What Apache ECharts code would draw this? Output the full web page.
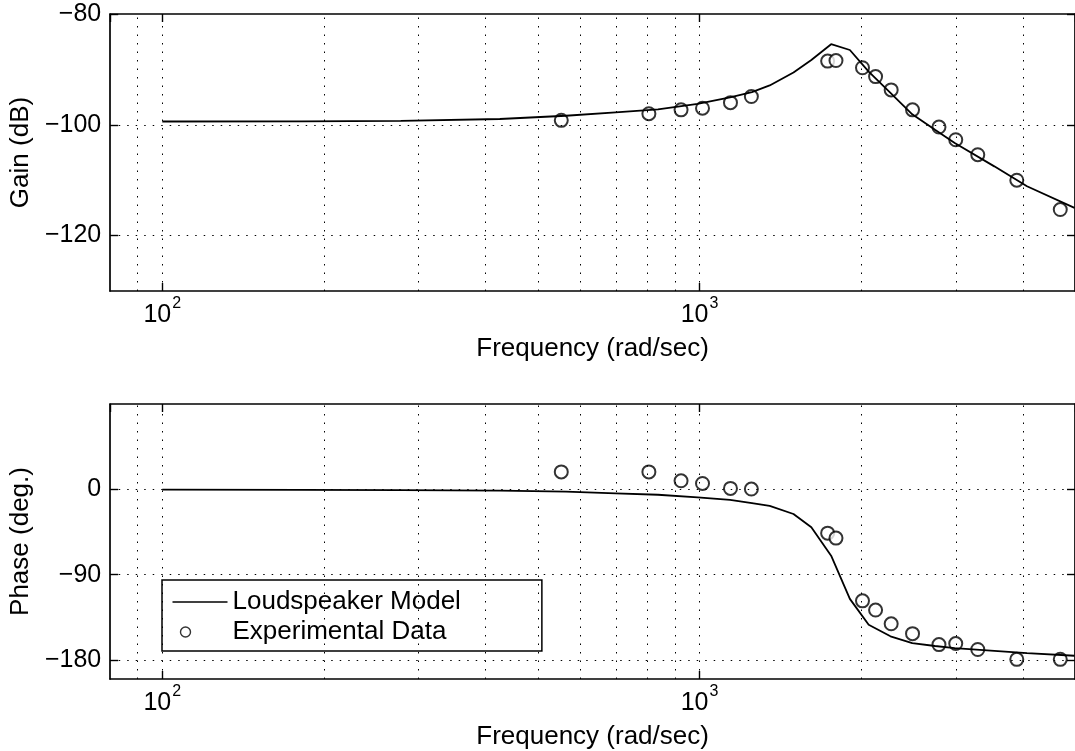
<!DOCTYPE html>
<html>
<head>
<meta charset="utf-8">
<script src="https://cdn.jsdelivr.net/npm/echarts@6/dist/echarts.min.js"></script>
<style>
  html, body { margin: 0; padding: 0; background: #fff; }
  #chart { width: 1075px; height: 751px; }
</style>
</head>
<body>
<div id="chart"></div>
<script>
// Loudspeaker model response (frequency in rad/sec)
const modelFreq  = [100, 182, 278, 425, 564, 698, 837, 992, 1140, 1252, 1351, 1496, 1615, 1758, 1905, 2065, 2267, 2489, 2744, 2986, 3538, 4070, 4989];
const modelGain  = [-99.4, -99.38, -99.3, -98.95, -98.37, -97.75, -97.2, -96.24, -95.05, -94.1, -92.9, -90.55, -88.3, -85.45, -86.5, -90.4, -94.25, -98.1, -100.9, -103.3, -107.5, -111.1, -115.0];
const modelPhase = [-0.3, -0.5, -0.8, -1.4, -2.5, -4.2, -5.7, -8.4, -11.1, -14.5, -17.4, -26, -40, -70, -115.5, -142.8, -155, -162.2, -165.2, -167.5, -170.4, -172.8, -175.5];

// Measured points
const expFreq  = [553, 805, 924, 1013, 1142, 1249, 1732, 1795, 2011, 2127, 2274, 2492, 2791, 2999, 3296, 3896, 4694];
const expGain  = [-99.2, -98.0, -97.3, -97.0, -96.0, -94.9, -88.5, -88.4, -89.7, -91.3, -93.7, -97.3, -100.4, -102.7, -105.4, -110.0, -115.3];
const expPhase = [18.4, 18.4, 9.0, 6.2, 1.0, 0.3, -46.2, -51.4, -117.6, -127.3, -141.8, -152.2, -163.7, -162.6, -168.9, -179.3, -179.3];

// Axis ranges and tick values
const freqMin = 80, freqMax = 5000;
const gainMin = -130, gainMax = -80;
const phaseMin = -200, phaseMax = 90;
const gainTicks = [-120, -100, -80];
const phaseTicks = [-180, -90, 0];
const freqGridLines = [90, 100, 200, 300, 400, 500, 600, 700, 800, 900, 1000, 2000, 3000, 4000];

const FONT = '"Liberation Sans", Arial, Helvetica, sans-serif';
const BLACK = '#000';

const zip = (xs, ys) => xs.map((x, i) => [x, ys[i]]);
const minus = v => String(v).replace('-', '\u2212');

function bottomFreqAxis(gridIndex) {
  return {
    type: 'log', logBase: 10, gridIndex, position: 'bottom',
    min: freqMin, max: freqMax,
    name: 'Frequency (rad/sec)', nameLocation: 'middle', nameGap: 45,
    nameTextStyle: { fontFamily: FONT, fontSize: 26, color: BLACK },
    axisLine: { show: true, onZero: false, lineStyle: { color: BLACK, width: 1.7 } },
    axisTick: { show: true, inside: true, length: 8, lineStyle: { color: BLACK, width: 1.4 } },
    axisLabel: {
      show: true, margin: 8.5, showMinLabel: false, showMaxLabel: false,
      formatter: v => '{b|10}{s|' + Math.round(Math.log10(v)) + '}',
      rich: {
        // base digits pushed down, exponent pushed up by padding
        b: { fontFamily: FONT, fontSize: 25, color: BLACK, lineHeight: 25, padding: [7, 0, 0, 0] },
        s: { fontFamily: FONT, fontSize: 16, color: BLACK, lineHeight: 16, padding: [0, 0, 16, 1] }
      }
    },
    splitLine: { show: false }
  };
}

function topFreqAxis(gridIndex) {
  return {
    type: 'log', logBase: 10, gridIndex, position: 'top',
    min: freqMin, max: freqMax,
    axisLine: { show: true, onZero: false, lineStyle: { color: BLACK, width: 1.7 } },
    axisTick: { show: true, inside: true, length: 8, lineStyle: { color: BLACK, width: 1.4 } },
    axisLabel: { show: false },
    splitLine: { show: false }
  };
}

function leftValueAxis(gridIndex, min, max, ticks, name) {
  return {
    type: 'value', gridIndex, position: 'left', min, max,
    name, nameLocation: 'middle', nameGap: 60, nameRotate: 90,
    nameTextStyle: { fontFamily: FONT, fontSize: 26, color: BLACK },
    axisLine: { show: true, onZero: false, lineStyle: { color: BLACK, width: 1.7 } },
    axisTick: { show: true, inside: true, length: 8, customValues: ticks, lineStyle: { color: BLACK, width: 1.4 } },
    axisLabel: { show: true, customValues: ticks, margin: 9, fontFamily: FONT, fontSize: 25, color: BLACK, formatter: minus },
    splitLine: { show: false }
  };
}

function rightValueAxis(gridIndex, min, max, ticks) {
  return {
    type: 'value', gridIndex, position: 'right', min, max,
    axisLine: { show: true, onZero: false, lineStyle: { color: BLACK, width: 1.7 } },
    axisTick: { show: true, inside: true, length: 8, customValues: ticks, lineStyle: { color: BLACK, width: 1.4 } },
    axisLabel: { show: false },
    splitLine: { show: false }
  };
}

// Dotted grid drawn as mark lines on each panel
function dottedGrid(yValues) {
  return {
    silent: true,
    symbol: ['none', 'none'],
    label: { show: false },
    emphasis: { disabled: true },
    animation: false,
    lineStyle: { color: BLACK, width: 1, type: [1.5, 7], opacity: 1 },
    data: freqGridLines.map(f => ({ xAxis: f })).concat(yValues.map(v => ({ yAxis: v })))
  };
}

const lineStyle = { color: BLACK, width: 1.8 };
const circleStyle = { color: BLACK, borderColor: BLACK, borderWidth: 1.7 };

const option = {
  animation: false,
  backgroundColor: '#fff',
  grid: [
    { left: 106, top: 14, width: 975.5, height: 277 },
    { left: 106, top: 404, width: 975.5, height: 279 }
  ],
  xAxis: [bottomFreqAxis(0), topFreqAxis(0), bottomFreqAxis(1), topFreqAxis(1)],
  yAxis: [
    leftValueAxis(0, gainMin, gainMax, gainTicks, 'Gain (dB)'),
    rightValueAxis(0, gainMin, gainMax, gainTicks),
    leftValueAxis(1, phaseMin, phaseMax, phaseTicks, 'Phase (deg.)'),
    rightValueAxis(1, phaseMin, phaseMax, phaseTicks)
  ],
  legend: {
    show: true, orient: 'vertical', left: 162, top: 580,
    selectedMode: false,
    itemWidth: 55, itemHeight: 12, itemGap: 4,
    padding: [9, 81, 6, 8],
    borderColor: BLACK, borderWidth: 1.5,
    textStyle: { fontFamily: FONT, fontSize: 26, color: BLACK },
    data: [
      {
        name: 'Loudspeaker Model',
        icon: 'path://M0,0M55,12M0,6L55,6',
        itemStyle: { color: 'none', borderColor: BLACK, borderWidth: 1.6 }
      },
      {
        name: 'Experimental Data',
        icon: 'path://M0,0M55,12M8,6a5,5,0,1,0,10,0a5,5,0,1,0,-10,0',
        itemStyle: { color: '#fff', borderColor: BLACK, borderWidth: 1.4 }
      }
    ]
  },
  series: [
    {
      type: 'line', name: 'Loudspeaker Model', xAxisIndex: 0, yAxisIndex: 0,
      data: zip(modelFreq, modelGain), symbol: 'none', lineStyle, itemStyle: { color: BLACK },
      markLine: dottedGrid(gainTicks.filter(v => v !== gainMax))
    },
    {
      type: 'scatter', name: 'Experimental Data', xAxisIndex: 0, yAxisIndex: 0,
      data: zip(expFreq, expGain), symbol: 'emptyCircle', symbolSize: 13, itemStyle: circleStyle
    },
    {
      type: 'line', name: 'Loudspeaker Model', xAxisIndex: 2, yAxisIndex: 2,
      data: zip(modelFreq, modelPhase), symbol: 'none', lineStyle, itemStyle: { color: BLACK },
      markLine: dottedGrid(phaseTicks)
    },
    {
      type: 'scatter', name: 'Experimental Data', xAxisIndex: 2, yAxisIndex: 2,
      data: zip(expFreq, expPhase), symbol: 'emptyCircle', symbolSize: 13, itemStyle: circleStyle
    }
  ]
};

const chart = echarts.init(document.getElementById('chart'), null, { renderer: 'canvas' });
chart.setOption(option);
</script>
</body>
</html>
